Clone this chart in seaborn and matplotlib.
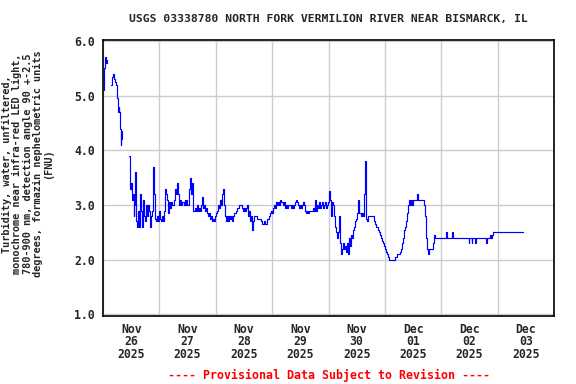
import numpy as np
import pandas as pd
import matplotlib
matplotlib.use('Agg')
import matplotlib.pyplot as plt
import matplotlib.dates as mdates
import seaborn as sns

# Turbidity readings, hours after 2025-11-26 00:00 (NaN = gap in record)
hours = [
    0.4, 0.6, 0.85, 1.3, 1.7, 2.0,
    3.4, 3.8, 4.3, 4.7, 5.1, 5.5, 5.9, 6.2, 6.6, 6.9, 7.2, 7.5, 7.8, 8.1, 8.4,
    11.0, 11.3, 11.7, 12.0, 12.3, 12.7, 13.0, 13.4, 13.8, 14.1, 14.5, 14.9, 15.3, 15.7,
    16.1, 16.5, 16.9, 17.2, 17.6, 18.0, 18.4, 18.8, 19.2, 19.6, 20.0, 20.4, 20.8, 21.2,
    21.6, 22.0, 22.5, 23.0, 23.5,
    24.0, 24.4, 24.8, 25.3, 25.7, 26.1, 26.5, 26.9, 27.3, 27.7, 28.1, 28.5, 28.9, 29.3,
    29.8, 30.2, 30.6, 31.0, 31.4, 31.8, 32.2, 32.6, 33.0, 33.4, 33.8, 34.3, 34.7, 35.1,
    35.5, 35.9, 36.3, 36.7, 37.1, 37.5, 37.9, 38.3, 38.8, 39.2, 39.6, 40.0, 40.4, 40.9,
    41.3, 41.7, 42.1, 42.5, 42.9, 43.4, 43.8, 44.2, 44.6, 45.1, 45.5, 45.9, 46.3, 46.8,
    47.2, 47.6, 48.1, 48.5, 48.9, 49.4, 49.8, 50.2, 50.6, 51.1, 51.5, 51.9, 52.3, 52.8,
    53.2, 53.6, 54.0, 54.5, 54.9, 55.3, 55.7, 56.2, 56.6, 57.0, 57.4, 57.9, 58.3, 58.7,
    59.1, 59.6, 60.0, 60.4, 60.9, 61.3, 61.7, 62.1, 62.6, 63.0, 63.4, 63.8, 64.3, 64.7,
    65.1, 65.5, 66.0, 66.4, 66.8, 67.2, 67.7, 68.1, 68.5, 68.9, 69.4, 69.8, 70.2, 70.6,
    71.1, 71.5, 71.9, 72.3, 72.8, 73.2, 73.6, 74.0, 74.5, 74.9, 75.3, 75.7, 76.2, 76.6,
    77.0, 77.4, 77.9, 78.3, 78.7, 79.1, 79.6, 80.0, 80.4, 80.9, 81.3, 81.7, 82.1, 82.6,
    83.0, 83.4, 83.8, 84.3, 84.7, 85.1, 85.5, 86.0, 86.4, 86.8, 87.2, 87.7, 88.1, 88.5,
    88.9, 89.4, 89.8, 90.2, 90.6, 91.1, 91.5, 91.9, 92.3, 92.8, 93.2, 93.6, 94.0, 94.5,
    94.9, 95.3, 95.7, 96.2, 96.6, 97.0, 97.4, 97.9, 98.3, 98.7, 99.1, 99.6, 100.0, 100.4,
    100.9, 101.3, 101.7, 102.1, 102.6, 103.0, 103.4, 103.8, 104.3, 104.7, 105.1, 105.5,
    106.0, 106.4, 106.8, 107.2, 107.7, 108.1, 108.5, 108.9, 109.4, 109.8, 110.2, 110.6,
    111.1, 111.5, 111.9, 112.3, 112.8, 115.3, 115.7, 116.2, 117.0, 117.4, 117.9, 118.3,
    118.7, 119.1, 119.6, 120.0, 120.4, 120.9, 121.3, 121.7, 124.3, 125.1, 126.4, 126.8,
    127.2, 127.7, 128.1, 128.5, 128.9, 129.4, 129.8, 130.2, 130.6, 131.1, 131.5, 131.9,
    133.6, 134.0, 136.6, 137.0, 137.4, 137.9, 138.3, 138.7, 140.4, 140.9, 141.3,
    146.0, 146.3, 148.5, 148.8, 155.7, 156.0, 157.0, 157.3, 158.3, 158.6, 163.0, 163.3,
    164.7, 165.1, 165.5, 166.0, 178.7,
]
fnu = [
    5.1, 5.5, 5.7, 5.6, 5.65, np.nan,
    5.2, 5.35, 5.4, 5.3, 5.25, 5.2, 4.95, 4.7, 4.8, 4.7, 4.4, 4.1, 4.35, 4.2, np.nan,
    3.9, 3.6, 3.3, 3.4, 3.1, 3.2, 2.8, 3.0, 3.6, 2.7, 2.6, 2.9, 2.6, 3.2,
    2.9, 2.6, 2.7, 3.1, 2.8, 2.7, 3.0, 2.8, 3.0, 2.9, 2.6, 2.8, 2.9, 3.7,
    3.2, 2.75, 2.7, 2.8, 2.7,
    2.9, 2.75, 2.7, 2.8, 2.7, 2.9, 3.3, 3.2, 3.1, 2.85, 3.05, 2.95, 3.05, 3.0,
    3.0, 3.1, 3.3, 3.2, 3.4, 3.2, 3.0, 3.1, 3.0, 3.0, 3.05, 3.0, 3.1, 3.0,
    3.1, 3.0, 3.0, 3.3, 3.5, 3.2, 3.4, 2.9, 2.9, 2.95, 2.9, 3.0, 2.9, 2.95,
    2.9, 3.0, 3.15, 2.95, 3.0, 2.9, 2.95, 2.85, 2.8, 2.85, 2.75, 2.8, 2.7, 2.75,
    2.7, 2.8, 2.85, 2.9, 3.0, 2.95, 3.1, 3.0, 3.2, 3.3, 3.0, 2.8, 2.7, 2.8,
    2.7, 2.8, 2.75, 2.8, 2.7, 2.8, 2.85, 2.85, 2.9, 2.95, 2.95, 3.0, 3.0, 3.0,
    2.95, 2.9, 2.95, 2.9, 2.95, 3.0, 2.8, 2.9, 2.7, 2.8, 2.55, 2.7, 2.8, 2.8,
    2.8, 2.75, 2.75, 2.75, 2.75, 2.7, 2.65, 2.65, 2.7, 2.65, 2.65, 2.75, 2.75, 2.8,
    2.85, 2.9, 2.85, 2.95, 3.0, 2.95, 3.05, 3.0, 3.05, 3.0, 3.1, 3.05, 3.05, 3.0,
    3.05, 2.95, 3.0, 2.95, 3.0, 3.0, 3.0, 2.95, 3.0, 2.95, 3.0, 3.05, 3.1, 3.05,
    3.0, 2.95, 3.0, 2.95, 3.0, 3.05, 3.0, 2.9, 2.85, 2.9, 2.85, 2.9, 2.9, 2.9,
    2.9, 2.95, 2.9, 3.1, 2.9, 3.0, 2.95, 3.05, 2.95, 3.0, 3.05, 2.95, 3.0, 3.05,
    2.95, 3.0, 3.05, 3.25, 3.1, 2.8, 3.05, 3.0, 2.8, 2.6, 2.5, 2.4, 2.5, 2.8,
    2.3, 2.1, 2.2, 2.3, 2.2, 2.25, 2.15, 2.3, 2.1, 2.4, 2.25, 2.45,
    2.4, 2.55, 2.6, 2.7, 2.75, 2.85, 3.1, 2.85, 2.85, 2.8, 2.85, 2.8,
    3.2, 3.8, 2.75, 2.7, 2.8, 2.7, 2.65, 2.6, 2.55, 2.5, 2.45, 2.4,
    2.35, 2.3, 2.25, 2.2, 2.15, 2.1, 2.05, 2.0, 2.05, 2.1, 2.15, 2.2,
    2.3, 2.4, 2.55, 2.6, 2.7, 2.85, 3.0, 3.1, 3.0, 3.1, 3.0, 3.1,
    3.2, 3.1, 3.0, 2.8, 2.4, 2.2, 2.1, 2.2, 2.3, 2.45, 2.4,
    2.5, 2.4, 2.5, 2.4, 2.3, 2.4, 2.3, 2.4, 2.3, 2.4, 2.3, 2.4,
    2.45, 2.4, 2.45, 2.5, 2.5,
]

start = pd.Timestamp('2025-11-26 00:00')
df = pd.DataFrame({'time': start + pd.to_timedelta(hours, unit='h'), 'fnu': fnu})
# split at the gaps so each piece is drawn on its own
df['seg'] = df['fnu'].isna().cumsum()
df = df.dropna()

sns.set_style('white')
plt.rcParams['font.family'] = 'DejaVu Sans Mono'
plt.rcParams['font.weight'] = 'bold'

fig = plt.figure(figsize=(5.76, 3.84), dpi=100)
ax = fig.add_axes([103 / 576, 1 - 316 / 384, 451 / 576, 276 / 384])

for s, part in df.groupby('seg'):
    sns.lineplot(data=part, x='time', y='fnu', ax=ax, color='#0000ff', lw=0.85,
                 estimator=None, sort=False, drawstyle='steps-post', legend=False)

ax.set_xlim(pd.Timestamp('2025-11-26'), pd.Timestamp('2025-12-04'))
ax.set_ylim(0.97, 6.02)
ax.set_yticks([1, 2, 3, 4, 5, 6])
ax.yaxis.set_major_formatter(matplotlib.ticker.FormatStrFormatter('%.1f'))

ax.xaxis.set_major_locator(mdates.DayLocator())
ax.xaxis.set_major_formatter(matplotlib.ticker.NullFormatter())
ax.xaxis.set_minor_locator(mdates.HourLocator(byhour=12))
ax.xaxis.set_minor_formatter(mdates.DateFormatter('%b\n%d\n%Y'))

ax.grid(True, which='major', color='#cccccc', lw=1.0)
ax.tick_params(axis='x', which='both', length=0, pad=5, labelsize=8.3)
ax.tick_params(axis='y', length=0, pad=6, labelsize=8.3)
for lab in ax.xaxis.get_minorticklabels() + ax.get_yticklabels():
    lab.set_fontweight('bold')
for lab in ax.xaxis.get_minorticklabels():
    lab.set_linespacing(0.95)
for sp in ax.spines.values():
    sp.set_color('black')
    sp.set_linewidth(1.2)

ax.set_xlabel('')
ax.set_ylabel('')
fig.text(27.5 / 576, 1 - 164 / 384,
         'Turbidity, water, unfiltered,\nmonochrome near infra-red LED light,\n'
         '780-900 nm, detection angle 90 +-2.5\ndegrees, formazin nephelometric units\n(FNU)',
         rotation=90, ha='center', va='center', fontsize=7.4, linespacing=1.05,
         multialignment='center', fontweight='bold')
fig.text(328.5 / 576, 1 - 19 / 384,
         'USGS 03338780 NORTH FORK VERMILION RIVER NEAR BISMARCK, IL',
         ha='center', va='center', fontsize=8.2, fontweight='bold')
fig.text(328.5 / 576, 1 - 375 / 384,
         '---- Provisional Data Subject to Revision ----',
         ha='center', va='center', fontsize=8.4, color='red', fontweight='bold')

fig.savefig('out.png', dpi=100)
